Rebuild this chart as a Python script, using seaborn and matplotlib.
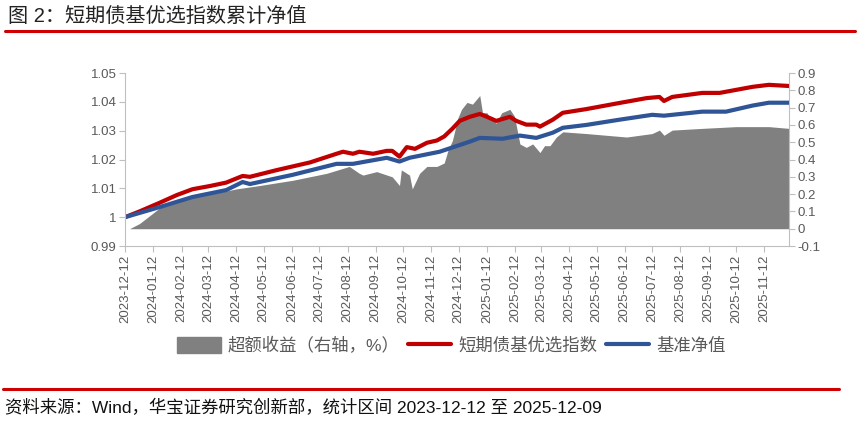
import matplotlib
matplotlib.use("Agg")
import matplotlib.pyplot as plt
import matplotlib.patches as mpatches
import matplotlib.lines as mlines
import seaborn as sns
import pandas as pd

# ---------------- data ----------------
area_dates = ["2023-12-14","2023-12-17","2023-12-28","2024-01-11","2024-01-19","2024-02-07","2024-02-24",
              "2024-03-14","2024-03-25","2024-04-12","2024-05-08","2024-06-13","2024-07-20","2024-08-14",
              "2024-08-25","2024-08-29","2024-09-13","2024-09-30","2024-10-08","2024-10-10","2024-10-19",
              "2024-10-22","2024-10-30","2024-11-07","2024-11-18","2024-11-26","2024-11-30","2024-12-05",
              "2024-12-11","2024-12-15","2024-12-21","2024-12-27","2025-01-04","2025-01-07","2025-01-12",
              "2025-01-15","2025-01-22","2025-01-28","2025-02-06","2025-02-11","2025-02-17","2025-02-24",
              "2025-03-03","2025-03-11","2025-03-16","2025-03-22","2025-03-29","2025-04-05","2025-05-01",
              "2025-05-23","2025-06-14","2025-07-12","2025-07-20","2025-07-25","2025-08-03","2025-09-05",
              "2025-10-12","2025-11-17","2025-12-09"]
excess = [0.0, 0.0, 0.03, 0.087, 0.12, 0.15, 0.18,
          0.20, 0.21, 0.23, 0.25, 0.28, 0.32, 0.36,
          0.32, 0.31, 0.33, 0.30, 0.25, 0.34, 0.31,
          0.23, 0.32, 0.36, 0.36, 0.38, 0.45, 0.51,
          0.64, 0.69, 0.73, 0.72, 0.77, 0.67, 0.67,
          0.64, 0.61, 0.67, 0.69, 0.65, 0.49, 0.47,
          0.49, 0.44, 0.48, 0.48, 0.53, 0.56, 0.55,
          0.54, 0.53, 0.55, 0.57, 0.54, 0.57, 0.58,
          0.59, 0.59, 0.58]

index_dates = ["2023-12-12","2023-12-28","2024-01-19","2024-02-07","2024-02-24","2024-03-14","2024-04-01",
               "2024-04-19","2024-04-27","2024-05-26","2024-07-02","2024-07-31","2024-08-07","2024-08-18",
               "2024-08-25","2024-09-09","2024-09-24","2024-09-30","2024-10-08","2024-10-16","2024-10-25",
               "2024-11-07","2024-11-18","2024-11-26","2024-12-05","2024-12-13","2024-12-24","2025-01-04",
               "2025-01-12","2025-01-22","2025-02-06","2025-02-13","2025-02-24","2025-03-07","2025-03-11",
               "2025-03-25","2025-04-05","2025-05-01","2025-06-06","2025-07-06","2025-07-20","2025-07-25",
               "2025-08-03","2025-09-05","2025-09-24","2025-10-30","2025-11-17","2025-12-09"]
index_nav = [1.000, 1.002, 1.005, 1.0077, 1.0097, 1.0108, 1.012,
             1.0143, 1.014, 1.0163, 1.019, 1.022, 1.0227, 1.022,
             1.0227, 1.022, 1.023, 1.023, 1.021, 1.0243, 1.0237,
             1.0258, 1.0266, 1.028, 1.0307, 1.0334, 1.0348, 1.0358,
             1.0348, 1.0334, 1.0348, 1.0334, 1.0321, 1.0321, 1.0314,
             1.0338, 1.0362, 1.0375, 1.0396, 1.0413, 1.0417, 1.0403,
             1.0417, 1.0431, 1.0431, 1.0452, 1.0459, 1.0455]

bench_dates = ["2023-12-12","2024-01-19","2024-02-24","2024-04-01","2024-04-19","2024-04-27","2024-06-13",
               "2024-07-31","2024-08-18","2024-09-24","2024-10-08","2024-10-19","2024-11-21","2024-12-24",
               "2025-01-04","2025-01-29","2025-02-17","2025-03-07","2025-03-25","2025-04-05","2025-05-01",
               "2025-06-06","2025-07-12","2025-07-25","2025-09-05","2025-10-01","2025-10-30","2025-11-17",
               "2025-12-09"]
bench_nav = [1.000, 1.0035, 1.007, 1.0094, 1.0122, 1.0115, 1.0147,
             1.0185, 1.0185, 1.0206, 1.0193, 1.0206, 1.0227, 1.0262,
             1.0275, 1.0272, 1.0283, 1.0275, 1.0293, 1.031, 1.032,
             1.0338, 1.0355, 1.0352, 1.0366, 1.0366, 1.0387, 1.0397,
             1.0397]

tick_labels = ["2023-12-12","2024-01-12","2024-02-12","2024-03-12","2024-04-12","2024-05-12",
               "2024-06-12","2024-07-12","2024-08-12","2024-09-12","2024-10-12","2024-11-12",
               "2024-12-12","2025-01-12","2025-02-12","2025-03-12","2025-04-12","2025-05-12",
               "2025-06-12","2025-07-12","2025-08-12","2025-09-12","2025-10-12","2025-11-12"]
left_ticks = [0.99, 1.00, 1.01, 1.02, 1.03, 1.04, 1.05]
left_tick_labels = ["0.99", "1", "1.01", "1.02", "1.03", "1.04", "1.05"]
right_ticks = [-0.1, 0, 0.1, 0.2, 0.3, 0.4, 0.5, 0.6, 0.7, 0.8, 0.9]
right_tick_labels = ["-0.1", "0", "0.1", "0.2", "0.3", "0.4", "0.5", "0.6", "0.7", "0.8", "0.9"]

title = "图 2：短期债基优选指数累计净值"
source = "资料来源：Wind，华宝证券研究创新部，统计区间 2023-12-12 至 2025-12-09"
name_excess = "超额收益（右轴，%）"
name_index = "短期债基优选指数"
name_bench = "基准净值"

# ---------------- style ----------------
sns.set_theme(style="white")
plt.rcParams['font.family'] = ['Liberation Sans', 'Noto Sans CJK SC', 'DejaVu Sans']

RED = "#C00000"
BLUE = "#2F5597"
GRAY = "#808080"
TXT = "#595959"
SPINE = "#BFBFBF"

fig = plt.figure(figsize=(8.6, 4.22), dpi=100)
ax = fig.add_axes([0.1453, 0.417, 0.9174 - 0.1453, 0.827 - 0.417])
ax2 = ax.twinx()

df_area = pd.DataFrame({"date": pd.to_datetime(area_dates), "v": excess})
df_idx = pd.DataFrame({"date": pd.to_datetime(index_dates), "v": index_nav})
df_bm = pd.DataFrame({"date": pd.to_datetime(bench_dates), "v": bench_nav})

ax2.fill_between(df_area["date"], 0, df_area["v"], color=GRAY, linewidth=0)
sns.lineplot(data=df_idx, x="date", y="v", ax=ax, color=RED, linewidth=3.0, legend=False)
sns.lineplot(data=df_bm, x="date", y="v", ax=ax, color=BLUE, linewidth=3.0, legend=False)

ax.set_zorder(ax2.get_zorder() + 1)
ax.patch.set_visible(False)

ax.set_xlim(pd.Timestamp("2023-12-12"), pd.Timestamp("2025-12-09"))
ax.set_ylim(0.99, 1.05)
ax2.set_ylim(-0.1, 0.9)

ax.set_yticks(left_ticks)
ax.set_yticklabels(left_tick_labels)
ax2.set_yticks(right_ticks)
ax2.set_yticklabels(right_tick_labels)
ax.set_xticks(pd.to_datetime(tick_labels))
ax.set_xticklabels(tick_labels, rotation=90)
ax.set_xlabel("")
ax.set_ylabel("")
ax2.set_ylabel("")

for a in (ax, ax2):
    for s in a.spines.values():
        s.set_color(SPINE)
        s.set_linewidth(0.8)
    a.spines['top'].set_visible(False)
    a.tick_params(axis='both', colors=SPINE, labelcolor=TXT, labelsize=9.5,
                  length=4, width=0.8, direction='out', pad=2)
ax.tick_params(axis='x', length=4, bottom=True)
ax.tick_params(axis='y', left=True)
ax2.tick_params(axis='y', right=True)
ax2.spines['bottom'].set_visible(False)
ax2.spines['left'].set_visible(False)
ax.spines['right'].set_visible(False)
ax.grid(False)
ax2.grid(False)

# legend
handles = [mpatches.Patch(color=GRAY, label=name_excess),
           mlines.Line2D([], [], color=RED, linewidth=3.0, label=name_index),
           mlines.Line2D([], [], color=BLUE, linewidth=3.0, label=name_bench)]
fig.legend(handles=handles, loc='center', bbox_to_anchor=(0.525, 0.182), ncol=3, frameon=False,
           fontsize=12.5, handlelength=2.5, handleheight=1.0, handletextpad=0.4, columnspacing=0.5,
           labelcolor=TXT)

# title, rules and source
fig.text(0.009, 0.962, title, fontsize=14.5, color="#222222", va='center', ha='left')
fig.add_artist(mlines.Line2D([0.006, 0.994], [0.926, 0.926], transform=fig.transFigure,
                             color="#D00000", linewidth=2.2))
fig.add_artist(mlines.Line2D([0.004, 0.975], [0.078, 0.078], transform=fig.transFigure,
                             color="#D00000", linewidth=2.2))
fig.text(0.006, 0.033, source, fontsize=12.5, color="#111111", va='center', ha='left')

fig.savefig("out.png", dpi=100)
